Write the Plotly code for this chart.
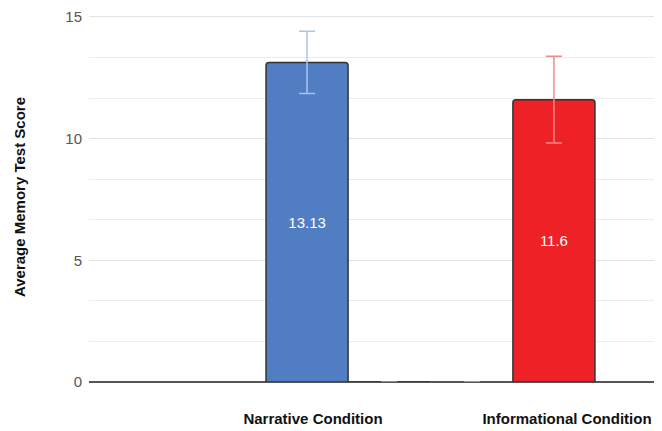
import plotly.graph_objects as go

# ---- data ----
categories = ["Narrative Condition", "Informational Condition"]
narrative_scores = [13.13]
narrative_errors = [1.28]
informational_scores = [0, 11.6]
informational_errors = [0, 1.78]
third_scores = [0]
third_errors = [0]
y_ticks = [0, 5, 10, 15]

FONT = "Arial, 'Liberation Sans', sans-serif"
BAR_W = 0.323


def labels(vals):
    return [f"{v:g}" if v else "" for v in vals]


fig = go.Figure()

fig.add_trace(go.Bar(
    x=categories[:1], y=narrative_scores,
    width=BAR_W, offset=-0.185,
    marker=dict(color="#517dc2", line=dict(color="#333333", width=1.5), cornerradius=3),
    error_y=dict(type="data", array=narrative_errors, color="#a8c4f2", thickness=1.5, width=8),
    text=labels(narrative_scores), textposition="inside", insidetextanchor="middle",
    textfont=dict(color="white", size=15, family=FONT), textangle=0,
    showlegend=False,
))

fig.add_trace(go.Bar(
    x=categories, y=informational_scores,
    width=BAR_W, offset=[0.138, -0.213],
    marker=dict(color="#ee2226", line=dict(color="#333333", width=1.5), cornerradius=3),
    error_y=dict(type="data", array=informational_errors, color="#f38a8b", thickness=1.5, width=8),
    text=labels(informational_scores), textposition="inside", insidetextanchor="middle",
    textfont=dict(color="white", size=15, family=FONT), textangle=0,
    showlegend=False,
))

fig.add_trace(go.Bar(
    x=categories[:1], y=third_scores,
    width=BAR_W, offset=0.465,
    marker=dict(color="#f6b26b", line=dict(width=0)),
    error_y=dict(type="data", array=third_errors, color="#e0b050", thickness=1.5, width=8),
    showlegend=False,
))

fig.update_layout(
    width=654, height=423,
    margin=dict(l=81, r=0, t=2, b=49),
    paper_bgcolor="white", plot_bgcolor="white",
    barmode="overlay",
    font=dict(family=FONT),
    xaxis=dict(
        type="category", categoryorder="array", categoryarray=categories,
        range=[-0.882, 1.374], showgrid=False, showline=False, zeroline=False,
        ticks="", ticklabelstandoff=26,
        tickfont=dict(size=15, color="#111111", family=FONT, weight="bold"),
    ),
    yaxis=dict(
        range=[0, 15.2], tickvals=y_ticks, showgrid=True, gridcolor="#e2e2e2", gridwidth=1,
        minor=dict(dtick=5/3, showgrid=True, gridcolor="#ececec", gridwidth=1),
        zeroline=True, zerolinecolor="#555555", zerolinewidth=1.5,
        showline=False, ticks="", ticklabelstandoff=6, ticklabeloverflow="allow",
        tickfont=dict(size=15, color="#555555", family=FONT),
        title=dict(text="Average Memory Test Score", standoff=36,
                   font=dict(size=15, color="#111111", family=FONT, weight="bold")),
    ),
)

fig.write_html("out.html")
